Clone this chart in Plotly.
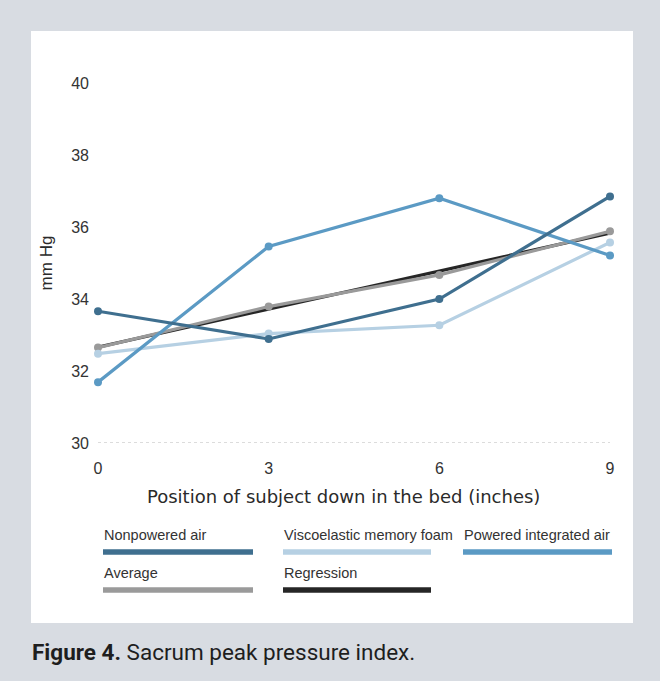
import numpy as np
import plotly.graph_objects as go

# Peak sacrum pressure (mm Hg) by subject position down the bed (inches)
positions = [0, 3, 6, 9]
nonpowered_air = [33.66, 32.89, 34.00, 36.85]
viscoelastic_foam = [32.48, 33.04, 33.27, 35.57]
powered_integrated_air = [31.69, 35.46, 36.80, 35.21]
average = [32.65, 33.79, 34.67, 35.88]

y_ticks = [30, 32, 34, 36, 38, 40]
x_ticks = [0, 3, 6, 9]

series_names = ["Nonpowered air", "Viscoelastic memory foam", "Powered integrated air",
                "Average", "Regression"]
series_colors = ["#3f6f8f", "#b6d0e3", "#5b9ac4", "#9a9a9a", "#262626"]

# Linear regression through the average curve
slope, intercept = np.polyfit(positions, average, 1)
regression = [intercept + slope * x for x in positions]

W, H = 660, 681
M_L, M_R, M_T, M_B = 98, 50, 83, 238
PW, PH = W - M_L - M_R, H - M_T - M_B


def px(x):
    return (x - M_L) / PW


def py(y):
    return (H - M_B - y) / PH


fig = go.Figure()

line_w = 3.2
fig.add_trace(go.Scatter(x=positions, y=regression, mode="lines",
                         line=dict(color=series_colors[4], width=line_w),
                         cliponaxis=False, showlegend=False))
fig.add_trace(go.Scatter(x=positions, y=average, mode="lines+markers",
                         line=dict(color=series_colors[3], width=line_w),
                         marker=dict(size=8, color=series_colors[3]),
                         cliponaxis=False, showlegend=False))
fig.add_trace(go.Scatter(x=positions, y=viscoelastic_foam, mode="lines+markers",
                         line=dict(color=series_colors[1], width=line_w),
                         marker=dict(size=8, color=series_colors[1]),
                         cliponaxis=False, showlegend=False))
fig.add_trace(go.Scatter(x=positions, y=powered_integrated_air, mode="lines+markers",
                         line=dict(color=series_colors[2], width=line_w),
                         marker=dict(size=8, color=series_colors[2]),
                         cliponaxis=False, showlegend=False))
fig.add_trace(go.Scatter(x=positions, y=nonpowered_air, mode="lines+markers",
                         line=dict(color=series_colors[0], width=line_w),
                         marker=dict(size=8, color=series_colors[0]),
                         cliponaxis=False, showlegend=False))

shapes = [
    # white card behind the chart
    dict(type="rect", xref="paper", yref="paper", layer="below",
         x0=px(31), x1=px(633), y0=py(623), y1=py(31),
         fillcolor="white", line=dict(width=0)),
    # dotted baseline at the bottom of the value axis
    dict(type="line", xref="x", yref="y", x0=positions[0], x1=positions[-1],
         y0=y_ticks[0], y1=y_ticks[0], layer="below",
         line=dict(color="#b8b8b8", width=1, dash="dot")),
]

annotations = []
legend_slots = [(103, 253, 535, 552), (283, 431, 535, 552), (463, 612, 535, 552),
                (103, 253, 573, 590), (283, 431, 573, 590)]
for name, color, (x0, x1, ty, sy) in zip(series_names, series_colors, legend_slots):
    shapes.append(dict(type="line", xref="paper", yref="paper",
                       x0=px(x0), x1=px(x1), y0=py(sy), y1=py(sy),
                       line=dict(color=color, width=5.5)))
    annotations.append(dict(text=name, xref="paper", yref="paper",
                            x=px(x0 - 1), y=py(ty), xanchor="left", yanchor="middle",
                            showarrow=False,
                            font=dict(family="Liberation Sans, Arial, sans-serif",
                                      size=14.5, color="#333333")))

# x-axis title, centred under the labelled positions
annotations.append(dict(
    text="Position of subject down in the bed (inches)",
    xref="paper", yref="paper", x=px(343), y=py(497), xanchor="center", yanchor="middle",
    showarrow=False,
    font=dict(family="DejaVu Sans, sans-serif", size=18, color="#2a2a2a")))

annotations.append(dict(
    text="<b>Figure 4.</b> Sacrum peak pressure index.",
    xref="paper", yref="paper", x=px(30), y=py(652), xanchor="left", yanchor="middle",
    showarrow=False,
    font=dict(family="Roboto, sans-serif", size=22.5, color="#1e1e1e")))

fig.update_layout(
    width=W, height=H,
    margin=dict(l=M_L, r=M_R, t=M_T, b=M_B),
    paper_bgcolor="#d8dce2",
    plot_bgcolor="rgba(0,0,0,0)",
    font=dict(family="Liberation Sans, Arial, sans-serif", color="#333333"),
    shapes=shapes,
    annotations=annotations,
    xaxis=dict(range=[0, 9], tickvals=x_ticks, showgrid=False, zeroline=False,
               showline=False, ticks="", ticklabelstandoff=14,
               tickfont=dict(size=16, color="#333333")),
    yaxis=dict(range=[30, 40], tickvals=y_ticks, showgrid=False, zeroline=False,
               showline=False, ticks="", ticklabelstandoff=8,
               tickfont=dict(size=16, color="#333333"),
               title=dict(text="mm Hg", font=dict(size=17, color="#2a2a2a"), standoff=14)),
)

fig.write_html("out.html")
